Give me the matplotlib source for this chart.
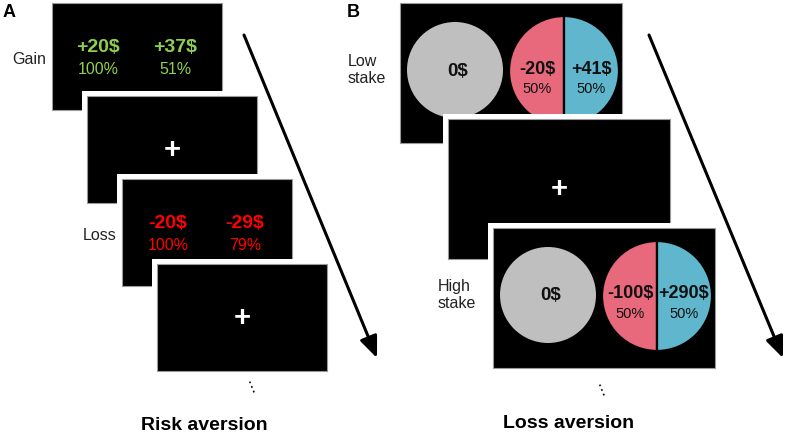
import matplotlib
matplotlib.use('Agg')
import matplotlib.pyplot as plt
from matplotlib.patches import Rectangle

plt.rcParams['font.family'] = ['Liberation Sans', 'DejaVu Sans']

# task content
gain_amounts = ['+20$', '+37$']
gain_probs = ['100%', '51%']
loss_amounts = ['-20$', '-29$']
loss_probs = ['100%', '79%']
sure_amount = '0$'
low_stake = ['-20$', '+41$']
high_stake = ['-100$', '+290$']
stake_probs = [50, 50]
row_labels_a = ['Gain', 'Loss']
row_labels_b = ['Low\nstake', 'High\nstake']
titles = ['Risk aversion', 'Loss aversion']

green = '#8fd14f'
red = '#ff0000'
pink = '#e8697c'
blue = '#5fb6cd'
gray = '#bfbfbf'

W, H = 787, 436
fig = plt.figure(figsize=(W / 100, H / 100), dpi=100)
ax = fig.add_axes([0, 0, 1, 1])


def screen(x, y, w, h, z):
    ax.add_patch(Rectangle((x - 5, y - 5), w + 10, h + 10, fc='white', ec='none', zorder=z))
    ax.add_patch(Rectangle((x, y), w, h, fc='black', ec='#9a9a9a', lw=0.8, zorder=z + 0.1))


def cross(x, y, z):
    ax.text(x, y, '+', color='white', fontsize=21, fontweight='bold',
            ha='center', va='center', zorder=z)


def stake_pair(cx, cy, amounts, z):
    ax.pie(stake_probs, colors=[pink, blue], center=(cx, cy), radius=55,
           startangle=90, counterclock=True,
           wedgeprops=dict(edgecolor='black', linewidth=1.6, zorder=z))
    probs = ['%d%%' % p for p in stake_probs]
    for dx, amt, pr in zip([-27, 27], amounts, probs):
        ax.text(cx + dx, cy - 2, amt, color='#111111', fontsize=13, fontweight='bold',
                ha='center', va='center', zorder=z + 0.1)
        ax.text(cx + dx, cy + 18, pr, color='#111111', fontsize=10.5,
                ha='center', va='center', zorder=z + 0.1)


# ---- panel A ----
aw, ah = 170, 107
a_pos = [(52, 3), (87, 96), (122, 179), (157, 264)]
for i, (x, y) in enumerate(a_pos):
    screen(x, y, aw, ah, 2 * i + 2)

for (x, y), amts, probs, col, lab, z in [
        (a_pos[0], gain_amounts, gain_probs, green, row_labels_a[0], 2.5),
        (a_pos[2], loss_amounts, loss_probs, red, row_labels_a[1], 6.5)]:
    for dx, amt, pr in zip([46, 123], amts, probs):
        ax.text(x + dx, y + 44, amt, color=col, fontsize=14, fontweight='bold',
                ha='center', va='center', zorder=z)
        ax.text(x + dx, y + 66, pr, color=col, fontsize=11.5,
                ha='center', va='center', zorder=z)
    ax.text(x - 6, y + 56, lab, fontsize=11.5, ha='right', va='center', color='#222222')

cross(a_pos[1][0] + aw / 2, a_pos[1][1] + ah / 2, 4.5)
cross(a_pos[3][0] + aw / 2, a_pos[3][1] + ah / 2, 8.5)

# ---- panel B ----
bw, bh = 222, 140
b_pos = [(400, 3), (448, 119), (493, 228)]
for i, (x, y) in enumerate(b_pos):
    screen(x, y, bw, bh, 2 * i + 2)

for (x, y), amts, lab, z in [(b_pos[0], low_stake, row_labels_b[0], 2.5),
                             (b_pos[2], high_stake, row_labels_b[1], 6.5)]:
    ax.add_patch(plt.Circle((x + 55, y + 67), 48, fc=gray, ec='none', zorder=z))
    ax.text(x + 58, y + 68, sure_amount, color='#111111', fontsize=13.5, fontweight='bold',
            ha='center', va='center', zorder=z + 0.1)
    stake_pair(x + 164, y + 68, amts, z)
    ax.text(x - 52 if lab.startswith('Low') else x - 55, y + 67, lab, fontsize=11.5,
            ha='left', va='center', color='#222222', linespacing=1.15)

cross(b_pos[1][0] + bw / 2, b_pos[1][1] + bh / 2, 4.5)

# time arrows
for start, tip in [((244, 35), (377, 358)), ((649, 35), (783, 358))]:
    ax.annotate('', xy=tip, xytext=start, zorder=20,
                arrowprops=dict(arrowstyle='-|>,head_length=0.65,head_width=0.27',
                                mutation_scale=20, lw=2.2, color='black',
                                shrinkA=0, shrinkB=0))

# continuation dots
for x, y in [(251, 385), (601, 388)]:
    ax.text(x, y, '\u22ee', fontsize=11, rotation=22, ha='center', va='center',
            family='DejaVu Sans')

# titles and panel letters
ax.text(204, 426, titles[0], fontsize=14, fontweight='bold', ha='center', va='center')
ax.text(569, 423, titles[1], fontsize=14, fontweight='bold', ha='center', va='center')
ax.text(3, 12, 'A', fontsize=13, fontweight='bold', ha='left', va='center')
ax.text(347, 12, 'B', fontsize=13, fontweight='bold', ha='left', va='center')

ax.set_xlim(0, W)
ax.set_ylim(H, 0)
ax.set_aspect('equal')
ax.axis('off')

fig.savefig('out.png', dpi=100, facecolor='white')
